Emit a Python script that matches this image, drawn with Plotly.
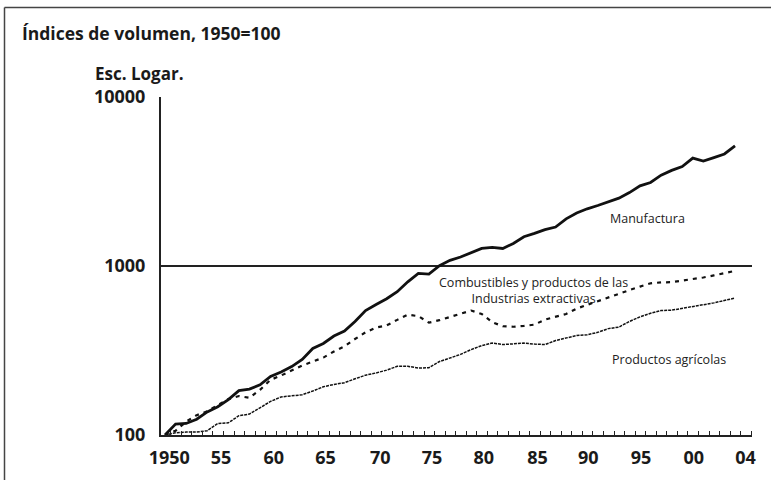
import plotly.graph_objects as go

years = list(range(1950, 2005))

manufactura = [100, 116, 117, 124, 137, 147, 162, 183, 187, 198,
               222, 236, 254, 280, 325, 348, 385, 412, 470, 545,
               592, 640, 705, 806, 905, 895, 1005, 1080, 1130, 1200,
               1270, 1290, 1270, 1360, 1490, 1560, 1640, 1700, 1900, 2060,
               2180, 2280, 2390, 2520, 2720, 2980, 3120, 3450, 3680, 3880,
               4350, 4180, 4380, 4600, 5130]

combustibles = [100, 106, 120, 131, 138, 150, 163, 170, 166, 185,
                212, 225, 240, 258, 272, 287, 312, 335, 370, 405,
                432, 445, 480, 515, 505, 462, 478, 500, 520, 545,
                520, 465, 440, 437, 442, 450, 482, 500, 520, 560,
                590, 620, 650, 690, 720, 755, 790, 800, 802, 820,
                835, 855, 880, 905, 935]

agricolas = [100, 103, 104, 104, 106, 117, 118, 130, 133, 145,
             158, 168, 170, 173, 182, 193, 199, 204, 215, 226,
             233, 242, 255, 255, 249, 250, 272, 285, 300, 320,
             338, 350, 343, 346, 350, 345, 343, 362, 375, 388,
             392, 405, 426, 435, 470, 500, 525, 545, 548, 560,
             575, 590, 605, 625, 646]

tick_text = ["1950", "55", "60", "65", "70", "75", "80", "85", "90", "95", "00", "04"]
tick_pos = [1950.4, 1955.3, 1960.3, 1965.2, 1970.4, 1975.3, 1980.2, 1985.3,
            1990.1, 1995.1, 2000.1, 2005.0]

y_ticks = [100, 1000, 10000]

bold = dict(family="Open Sans", size=18, color="#1a1a1a")
small = dict(family="Open Sans", size=12.5, color="#222222")

fig = go.Figure()
fig.add_trace(go.Scatter(x=years, y=agricolas, mode="lines", name="Productos agrícolas",
                         line=dict(color="#111111", width=1.5, dash="3px,1px")))
fig.add_trace(go.Scatter(x=years, y=combustibles, mode="lines", name="Combustibles",
                         line=dict(color="#111111", width=2.2, dash="4px,5px")))
fig.add_trace(go.Scatter(x=years, y=manufactura, mode="lines", name="Manufactura",
                         line=dict(color="#111111", width=2.8)))

fig.update_layout(
    width=771, height=480,
    margin=dict(l=161, r=19, t=97, b=45),
    paper_bgcolor="white", plot_bgcolor="white",
    showlegend=False,
    title=dict(text="<b>Índices de volumen, 1950=100</b>", x=22 / 771, xanchor="left",
               y=1 - 34 / 480, yanchor="middle",
               font=dict(family="Open Sans", size=17.5, color="#1a1a1a")),
    xaxis=dict(range=[1949.62, 2005.61], tickmode="array", tickvals=tick_pos,
               ticktext=["<b>%s</b>" % t for t in tick_text], ticks="",
               showgrid=False, zeroline=False, showline=True, linecolor="#222222",
               linewidth=1.5, tickfont=bold, ticklabelstandoff=6,
               minor=dict(tickmode="linear", tick0=1950.54, dtick=1, ticks="inside",
                          ticklen=4, tickcolor="#222222", tickwidth=1, showgrid=False)),
    yaxis=dict(type="log", range=[2, 4], tickmode="array", tickvals=y_ticks,
               ticktext=["<b>%d</b>" % v for v in y_ticks], ticks="",
               showgrid=True, gridcolor="#222222", gridwidth=1.5, zeroline=False,
               showline=True, linecolor="#222222", linewidth=2, tickfont=bold,
               ticklabelstandoff=10),
)

fig.add_annotation(x=-0.1151, y=1.07, xref="paper", yref="paper", xanchor="left",
                   yanchor="middle", text="<b>Esc. Logar.</b>", showarrow=False,
                   font=dict(family="Open Sans", size=17, color="#1a1a1a"))
fig.add_annotation(x=1995.7, y=3.284, text="Manufactura", showarrow=False, font=small)
fig.add_annotation(x=1984.9, y=2.858, text="Combustibles y productos de las<br>Industrias extractivas",
                   showarrow=False, font=small, align="center")
fig.add_annotation(x=1997.7, y=2.444, text="Productos agrícolas", showarrow=False, font=small)

# outer frame: only its top and left edges fall inside the picture
frame = dict(color="#444444", width=1.5)
fig.add_shape(type="line", xref="paper", yref="paper", x0=-0.2648, x1=-0.2648,
              y0=-0.3, y1=1.2648, line=frame)
fig.add_shape(type="line", xref="paper", yref="paper", x0=-0.2648, x1=1.2,
              y0=1.2648, y1=1.2648, line=frame)

fig.write_html("out.html", config={"displayModeBar": False},
               post_script="document.body.style.margin='0';"
               "document.body.style.overflow='hidden';")
